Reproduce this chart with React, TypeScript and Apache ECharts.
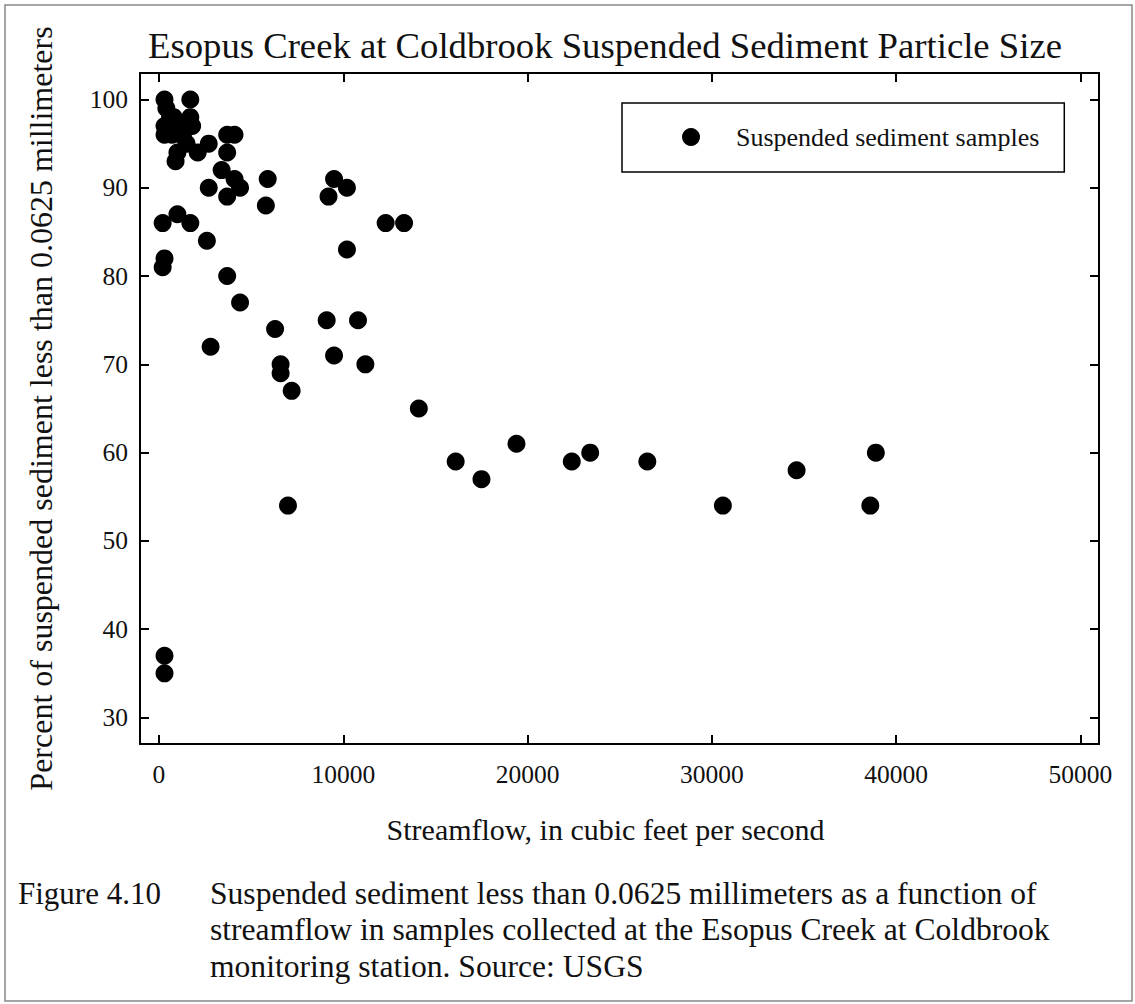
import React, { useEffect, useRef } from "react";
import * as echarts from "echarts";

const FONT = "'Liberation Serif', 'Times New Roman', serif";

const titleText = "Esopus Creek at Coldbrook Suspended Sediment Particle Size";
const xAxisName = "Streamflow, in cubic feet per second";
const yAxisName = "Percent of suspended sediment less than 0.0625 millimeters";
const seriesName = "Suspended sediment samples";

const xTicks = [0, 10000, 20000, 30000, 40000, 50000];
const yTicks = [30, 40, 50, 60, 70, 80, 90, 100];

// Streamflow (cfs)
const streamflow = [
  300, 400, 600, 300, 300, 700, 600, 800, 1000, 1700, 1700, 1800, 1300, 1500, 1000, 900, 2100, 2700, 1200,
  3700, 4100, 3700, 3400, 4100, 4400, 2700, 3700, 5900, 5800, 9500, 9200, 10200, 12300, 13300, 10200,
  200, 1000, 1700, 2600, 300, 200, 3700, 4400, 2800, 6300, 9100, 10800, 9500, 11200, 6600, 6600, 7200,
  14100, 7000, 16100, 17500, 19400, 22400, 23400, 26500, 30600, 34600, 38600, 38900, 300, 300,
];
// Percent of suspended sediment < 0.0625 mm
const percentFine = [
  100, 99, 98, 97, 96, 96, 97, 98, 97, 100, 98, 97, 96, 95, 94, 93, 94, 95, 96,
  96, 96, 94, 92, 91, 90, 90, 89, 91, 88, 91, 89, 90, 86, 86, 83,
  86, 87, 86, 84, 82, 81, 80, 77, 72, 74, 75, 75, 71, 70, 70, 69, 67,
  65, 54, 59, 57, 61, 59, 60, 59, 54, 58, 54, 60, 37, 35,
];

const captionLabel = "Figure 4.10";
const captionLines = [
  "Suspended sediment less than 0.0625 millimeters as a function of",
  "streamflow in samples collected at the Esopus Creek at Coldbrook",
  "monitoring station. Source: USGS",
];

export default function App() {
  const ref = useRef<HTMLDivElement>(null);
  useEffect(() => {
    if (!ref.current) return;
    const chart = echarts.init(ref.current, undefined, { renderer: "svg" });
    const data = streamflow.map((x, i) => [x, percentFine[i]]);
    const axisLine = { show: true, onZero: false, lineStyle: { color: "#000", width: 2 } };
    const xCommon = { type: "value", min: -1030, max: 51010, splitLine: { show: false } };
    const yCommon = { type: "value", min: 27, max: 103, splitLine: { show: false } };
    const lineH = 36.5;
    const capTop = 893 - lineH / 2;
    chart.setOption({
      animation: false,
      backgroundColor: "#fff",
      title: {
        text: titleText,
        left: 148,
        top: 27,
        padding: 0,
        textStyle: { fontFamily: FONT, fontSize: 36.7, fontWeight: "normal", color: "#111" },
      },
      grid: { left: 140, top: 73, right: 36, bottom: 260, containLabel: false },
      legend: {
        data: [{ name: seriesName, icon: "circle" }],
        left: 622,
        top: 103,
        orient: "horizontal",
        itemWidth: 80,
        itemHeight: 18,
        padding: [21, 25, 22, 60],
        borderColor: "#000",
        borderWidth: 1.5,
        backgroundColor: "#fff",
        itemStyle: { opacity: 1 },
        textStyle: { fontFamily: FONT, fontSize: 26, color: "#111" },
      },
      xAxis: [
        {
          ...xCommon,
          position: "bottom",
          name: xAxisName,
          nameLocation: "middle",
          nameGap: 70,
          nameTextStyle: { fontFamily: FONT, fontSize: 30, color: "#111", padding: [0, 28, 0, 0] },
          axisLine,
          axisTick: { show: true, inside: true, length: 9, customValues: xTicks, lineStyle: { color: "#000", width: 2 } },
          axisLabel: {
            show: true,
            margin: 17,
            customValues: xTicks,
            formatter: (v: number) => String(v),
            fontFamily: FONT,
            fontSize: 25.5,
            color: "#111",
          },
        },
        {
          ...xCommon,
          position: "top",
          axisLine,
          axisTick: { show: true, inside: true, length: 9, customValues: xTicks, lineStyle: { color: "#000", width: 2 } },
          axisLabel: { show: false },
        },
      ],
      yAxis: [
        {
          ...yCommon,
          position: "left",
          name: yAxisName,
          nameLocation: "middle",
          nameGap: 83,
          nameTextStyle: { fontFamily: FONT, fontSize: 32, color: "#111" },
          axisLine,
          axisTick: { show: true, inside: true, length: 9, customValues: yTicks, lineStyle: { color: "#000", width: 2 } },
          axisLabel: {
            show: true,
            margin: 12,
            customValues: yTicks,
            formatter: (v: number) => String(v),
            fontFamily: FONT,
            fontSize: 25.5,
            color: "#111",
          },
        },
        {
          ...yCommon,
          position: "right",
          axisLine,
          axisTick: { show: true, inside: true, length: 9, customValues: yTicks, lineStyle: { color: "#000", width: 2 } },
          axisLabel: { show: false },
        },
      ],
      series: [
        {
          name: seriesName,
          type: "scatter",
          xAxisIndex: 0,
          yAxisIndex: 0,
          symbol: "circle",
          symbolSize: 18,
          itemStyle: { color: "#000", opacity: 1 },
          emphasis: { disabled: true },
          data,
        },
      ],
      graphic: [
        {
          type: "rect",
          shape: { x: 5, y: 5, width: 1127, height: 996 },
          style: { fill: "none", stroke: "#888", lineWidth: 1.5 },
          silent: true,
        },
        {
          type: "text",
          x: 18,
          y: capTop,
          style: {
            text: captionLabel,
            font: `31px ${FONT}`,
            fill: "#111",
            lineHeight: lineH,
            verticalAlign: "top",
          },
        },
        {
          type: "text",
          x: 210,
          y: capTop,
          style: {
            text: captionLines.join("\n"),
            font: `31.6px ${FONT}`,
            fill: "#111",
            lineHeight: lineH,
            verticalAlign: "top",
          },
        },
      ],
    });
    return () => chart.dispose();
  }, []);
  return (
    <div
      ref={ref}
      style={{ position: "absolute", left: 0, top: 0, width: 1135, height: 1004, background: "#fff" }}
    />
  );
}
